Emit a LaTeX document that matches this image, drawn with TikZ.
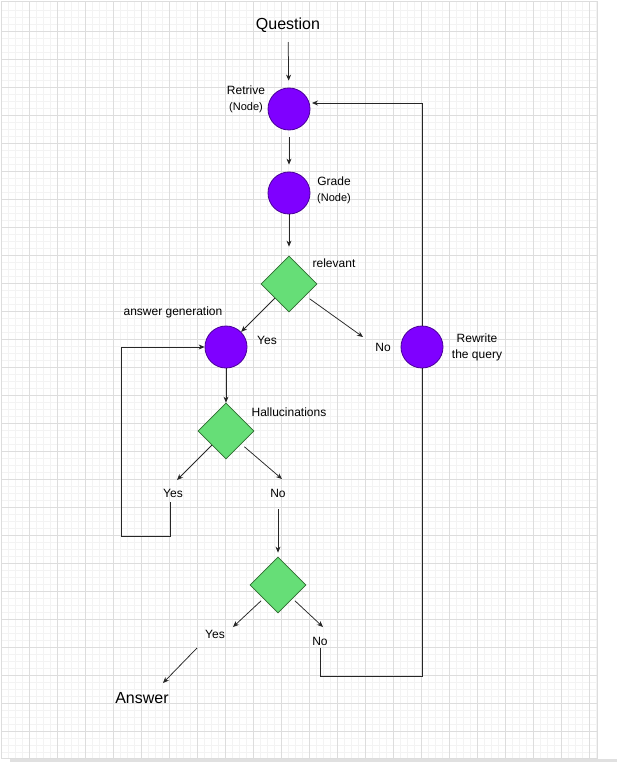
\documentclass[tikz,border=0pt]{standalone}
\usepackage{fontspec}
\setmainfont{Liberation Sans}
\usetikzlibrary{shapes.geometric,arrows.meta}

\definecolor{nodepurple}{HTML}{7F00FF}
\definecolor{nodeedge}{HTML}{4A0099}
\definecolor{diamondgreen}{HTML}{66DE77}
\definecolor{diamondedge}{HTML}{2F6B30}
\definecolor{minorgray}{HTML}{F3F3F3}
\definecolor{majorgray}{HTML}{DDDDDD}

\begin{document}
\begin{tikzpicture}[x=1pt,y=-1pt,
    purplenode/.style={circle, draw=nodeedge, fill=nodepurple, minimum size=42pt, inner sep=0pt, line width=0.8pt},
    greendiamond/.style={diamond, draw=diamondedge, fill=diamondgreen, minimum width=56pt, minimum height=56pt, inner sep=0pt, line width=0.8pt},
    lbl/.style={inner sep=0pt, font=\fontsize{12}{16}\selectfont, align=center},
    biglbl/.style={lbl, font=\fontsize{16}{19}\selectfont},
    flowline/.style={draw=black!85, line width=0.75pt},
    flowarrow/.style={flowline, -{Stealth[length=6pt,width=5pt]}}]

    \useasboundingbox (0,0) rectangle (617,762);

    % Draw the background grid
    \fill[white] (0,0) rectangle (617,762);
    \foreach \x in {8,15,...,596} \draw[minorgray, line width=0.5pt] (\x,2) -- (\x,758);
    \foreach \y in {10,17,...,756} \draw[minorgray, line width=0.5pt] (2,\y) -- (597,\y);
    \foreach \x in {29,57,...,589} \draw[majorgray, line width=0.7pt] (\x,2) -- (\x,758);
    \foreach \y in {31,59,...,731} \draw[majorgray, line width=0.7pt] (2,\y) -- (597,\y);
    \draw[majorgray, line width=0.7pt] (1.5,1.5) rectangle (597.5,758.5);
    \fill[black!12] (10,759) rectangle (617,762);

    % Define the nodes
    \node[biglbl] (question) at (288,25.5) {Question};
    \node[purplenode] (retrive) at (289,109) {};
    \node[lbl] (retrivelbl) at (246,99) {Retrive\\{\fontsize{11}{14}\selectfont(Node)}};
    \node[purplenode] (grade) at (289,193) {};
    \node[lbl] (gradelbl) at (334,190) {Grade\\{\fontsize{11}{14}\selectfont(Node)}};
    \node[greendiamond] (relevant) at (289,284) {};
    \node[lbl] (relevantlbl) at (334,263) {relevant};
    \node[purplenode] (answergen) at (226,347) {};
    \node[lbl] (answergenlbl) at (173,312) {answer generation};
    \node[lbl] (relyes) at (267,340) {Yes};
    \node[lbl] (relno) at (383,347) {No};
    \node[purplenode] (rewrite) at (422,347) {};
    \node[lbl] (rewritelbl) at (477,347) {Rewrite\\the query};
    \node[greendiamond] (halluc) at (226,431) {};
    \node[lbl] (hallucinlbl) at (289,412) {Hallucinations};
    \node[lbl] (hyes) at (173,493) {Yes};
    \node[lbl] (hno) at (278,493) {No};
    \node[greendiamond] (check) at (278,585) {};
    \node[lbl] (cyes) at (215,634) {Yes};
    \node[lbl] (cno) at (320,641) {No};
    \node[biglbl] (answer) at (142,698) {Answer};

    % Define the free ends
    \coordinate (relnoend) at (363,337);
    \coordinate (retrivein) at (312,103);
    \coordinate (hyesend) at (177,480);
    \coordinate (hnoend) at (282,479);
    \coordinate (hyestail) at (170,502);
    \coordinate (yesloop) at (121,536);
    \coordinate (cyesend) at (233,627);
    \coordinate (cnoend) at (323,627);
    \coordinate (cyestail) at (197,648);
    \coordinate (answerend) at (163,683);
    \coordinate (cnotail) at (320,648);
    \coordinate (cnocorner) at (320,676);

    % Draw the main flow
    \draw[flowarrow, shorten <=9pt, shorten >=7pt] (question) -- (retrive);
    \draw[flowarrow, shorten <=7pt, shorten >=7pt] (retrive) -- (grade);
    \draw[flowarrow, shorten >=9pt] (grade) -- (relevant);
    \draw[flowarrow] (relevant) -- (answergen);
    \draw[flowarrow, shorten <=5pt] (relevant) -- (relnoend);
    \draw[flowarrow] (answergen) -- (halluc);
    \draw[flowarrow] (halluc) -- (hyesend);
    \draw[flowarrow, shorten <=4pt] (halluc) -- (hnoend);
    \draw[flowarrow, shorten <=12pt, shorten >=4pt] (hno) -- (check);
    \draw[flowarrow, shorten <=3pt] (check) -- (cyesend);
    \draw[flowarrow, shorten <=3pt] (check) -- (cnoend);
    \draw[flowarrow] (cyestail) -- (answerend);

    % Draw the loops
    \draw[flowarrow] (hyestail) |- (yesloop) |- (answergen.west);
    \draw[flowarrow] (rewrite.north) |- (retrivein);
    \draw[flowline] (rewrite.south) |- (cnocorner) -- (cnotail);

\end{tikzpicture}
\end{document}
